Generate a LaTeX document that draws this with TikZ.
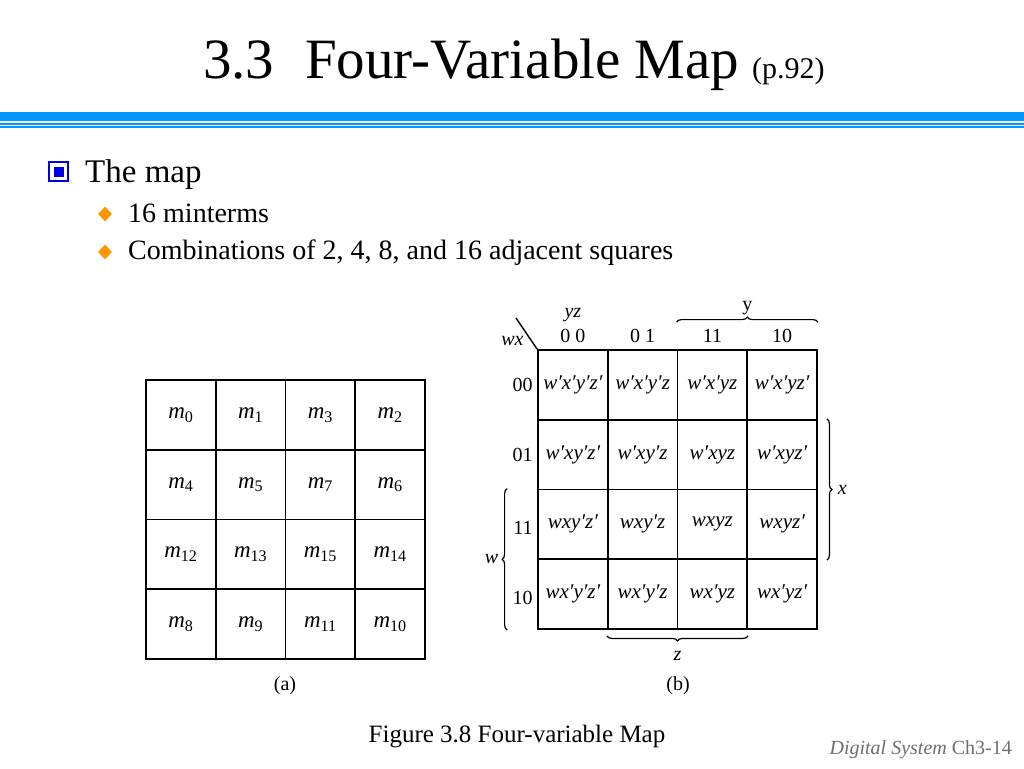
\documentclass[tikz,border=0pt]{standalone}
\usepackage{fontspec}
\setmainfont{Liberation Serif}
\usetikzlibrary{positioning, decorations.pathreplacing, shapes.geometric}
\definecolor{headblue}{RGB}{0,150,255}
\definecolor{bulletblue}{RGB}{0,0,230}
\definecolor{bulletorange}{RGB}{255,150,0}
\definecolor{footgray}{RGB}{110,110,110}

\begin{document}
\begin{tikzpicture} [x=1pt, y=-1pt,
    txt/.style={inner sep=0pt},
    lbl/.style={font=\fontsize{20}{24}\selectfont},
    cell/.style={draw, line width=1.8pt, minimum size=69.75pt, inner sep=0pt, font=\fontsize{21}{24}\selectfont\itshape},
    brace/.style={decorate, decoration={brace, amplitude=5pt}, line width=1.2pt}]
    \useasboundingbox (0,0) rectangle (1024,768);

    % Draw the title
    \node[txt, anchor=base west, font=\fontsize{57}{60}\selectfont] (secnum) at (203,78) {3.3};
    \node[txt, anchor=base west, font=\fontsize{57}{60}\selectfont] (title) at (305,78) {Four-Variable Map};
    \node[txt, anchor=base west, font=\fontsize{30}{34}\selectfont] (page) at (752,78) {(p.92)};

    % Draw the header rule
    \fill[headblue] (0,112) rectangle (1024,121);
    \draw[headblue, line width=1.2pt] (0,124) -- (1024,124);
    \draw[headblue, line width=1.2pt] (0,127) -- (1024,127);

    % Draw the bullets
    \node[draw=bulletblue, line width=2pt, minimum size=19pt, inner sep=0pt] (sq) at (58.5,171.5) {};
    \node[fill=bulletblue, minimum size=10pt, inner sep=0pt] at (sq) {};
    \node[txt, anchor=base west, font=\fontsize{33}{36}\selectfont] (item) at (85,182) {The map};
    \node[diamond, fill=bulletorange, minimum width=14pt, minimum height=15pt, inner sep=0pt] (dia1) at (105,214) {};
    \node[txt, anchor=base west, font=\fontsize{28}{32}\selectfont] (sub1) at (128,222) {16 minterms};
    \node[diamond, fill=bulletorange, minimum width=14pt, minimum height=15pt, inner sep=0pt] (dia2) at (105,252) {};
    \node[txt, anchor=base west, font=\fontsize{28}{32}\selectfont] (sub2) at (128,259) {Combinations of 2, 4, 8, and 16 adjacent squares};

    % Draw map (a)
    \foreach \row [count=\r] in {{0,1,3,2},{4,5,7,6},{12,13,15,14},{8,9,11,10}} {
        \foreach \t [count=\c] in \row {
            \node[cell, font=\fontsize{23}{24}\selectfont] (a-\r-\c) at ({146+69.75*(\c-0.5)},{380+69.75*(\r-0.5)}) {\textit{m}\textsubscript{\t}};
        }
    }
    \node[lbl] (capa) at (285,686) {(a)};

    % Draw map (b)
    \foreach \row [count=\r] in {{w′x′y′z′,w′x′y′z,w′x′yz,w′x′yz′},{w′xy′z′,w′xy′z,w′xyz,w′xyz′},{wxy′z′,wxy′z,wxyz,wxyz′},{wx′y′z′,wx′y′z,wx′yz,wx′yz′}} {
        \foreach \t [count=\c] in \row {
            \node[cell] (b-\r-\c) at ({538+69.75*(\c-0.5)},{350+69.75*(\r-0.5)}) {\t};
        }
    }
    \node[lbl] (capb) at (678,686) {(b)};

    % Draw the column and row headings
    \node[lbl, above=3pt of b-1-1] (col1) {0 0};
    \node[lbl, above=3pt of b-1-2] (col2) {0 1};
    \node[lbl, above=3pt of b-1-3] (col3) {11};
    \node[lbl, above=3pt of b-1-4] (col4) {10};
    \node[lbl, left=1pt of b-1-1] (row1) {00};
    \node[lbl, left=1pt of b-2-1] (row2) {01};
    \node[lbl, left=1pt of b-3-1, yshift=-4pt] (row3) {11};
    \node[lbl, left=1pt of b-4-1, yshift=-4pt] (row4) {10};
    \node[lbl, above=0pt of col1] (yzlbl) {\textit{yz}};
    \node[lbl, left=10pt of b-1-1.north west, yshift=8pt] (wxlbl) {\textit{wx}};

    % Draw the diagonal
    \coordinate (diag) at (516,318);
    \draw[line width=1.4pt] (diag) -- (b-1-1.north west);

    % Draw the braces
    \draw[brace] ([yshift=27pt]b-1-3.north west) -- ([yshift=27pt]b-1-4.north east) node[lbl, midway, above=3pt] (ylbl) {y};
    \draw[brace] ([xshift=9pt]b-2-4.north east) -- ([xshift=9pt]b-3-4.south east) node[lbl, midway, right=7pt] (xlbl) {\textit{x}};
    \draw[brace] ([xshift=-30pt]b-4-1.south west) -- ([xshift=-30pt]b-3-1.north west) node[lbl, midway, left=5pt] (wlbl) {\textit{w}};
    \draw[brace] ([yshift=-6pt]b-4-3.south east) -- ([yshift=-6pt]b-4-2.south west) node[lbl, midway, below=11pt] (zlbl) {\textit{z}};

    % Draw the footer
    \node[txt, anchor=base, font=\fontsize{25}{28}\selectfont] (fig) at (517,742) {Figure 3.8 Four-variable Map};
    \node[txt, anchor=base east, font=\fontsize{20}{24}\selectfont, text=footgray] (foot) at (1012,754) {\textit{Digital System} Ch3-14};
\end{tikzpicture}
\end{document}
